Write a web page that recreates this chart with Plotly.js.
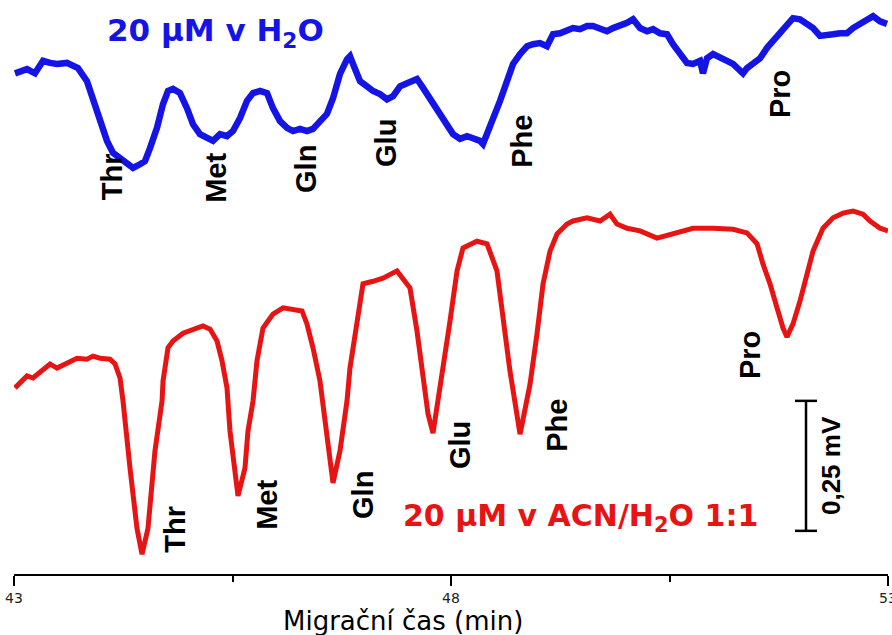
<!DOCTYPE html>
<html>
<head>
<meta charset="utf-8">
<script src="https://cdn.plot.ly/plotly-3.0.1.min.js"></script>
<style>html,body{margin:0;padding:0;background:#fff;}#chart{width:892px;height:635px;}</style>
</head>
<body>
<div id="chart"></div>
<script>
// Migration time (min) and detector signal (mV)
const timeWater = [
 43.011,43.149,43.240,43.332,43.412,43.492,43.606,43.675,43.732,43.835,
 43.904,43.984,44.064,44.133,44.213,44.293,44.362,44.442,44.499,44.556,
 44.636,44.705,44.762,44.819,44.899,44.979,45.048,45.128,45.208,45.277,
 45.357,45.437,45.506,45.586,45.666,45.735,45.815,45.895,45.963,46.044,
 46.124,46.192,46.272,46.352,46.421,46.501,46.581,46.650,46.730,46.810,
 46.844,46.879,46.959,47.039,47.108,47.188,47.268,47.337,47.417,47.497,
 47.611,47.680,47.760,47.840,47.954,48.023,48.103,48.183,48.252,48.332,
 48.366,48.412,48.481,48.561,48.641,48.710,48.790,48.870,48.938,49.018,
 49.098,49.167,49.247,49.327,49.396,49.476,49.556,49.625,49.705,49.785,
 49.854,49.934,50.014,50.083,50.163,50.243,50.312,50.392,50.472,50.540,
 50.620,50.700,50.769,50.849,50.883,50.929,50.998,51.078,51.158,51.227,
 51.307,51.341,51.387,51.456,51.536,51.616,51.684,51.764,51.844,51.913,
 51.993,52.073,52.142,52.222,52.302,52.371,52.451,52.531,52.600,52.680,
 52.760,52.829,52.909,52.989
];
const signalWater = [
 0.963,0.971,0.963,0.987,0.983,0.981,0.983,0.977,0.973,0.948,
 0.915,0.871,0.833,0.810,0.800,0.788,0.781,0.788,0.794,0.819,
 0.858,0.904,0.929,0.933,0.925,0.896,0.865,0.846,0.838,0.833,
 0.846,0.842,0.852,0.877,0.910,0.925,0.929,0.925,0.896,0.871,
 0.858,0.852,0.856,0.852,0.856,0.871,0.885,0.915,0.962,0.990,
 0.996,0.981,0.948,0.938,0.929,0.923,0.913,0.919,0.938,0.944,
 0.952,0.935,0.913,0.896,0.865,0.846,0.837,0.842,0.838,0.833,
 0.827,0.846,0.871,0.910,0.948,0.981,1.000,1.015,1.019,1.021,
 1.015,1.038,1.040,1.044,1.050,1.048,1.054,1.054,1.048,1.044,
 1.050,1.054,1.060,1.067,1.050,1.044,1.048,1.040,1.038,1.019,
 1.000,0.983,0.981,0.987,0.963,0.992,1.000,0.992,0.987,0.981,
 0.971,0.963,0.973,0.981,0.992,1.012,1.025,1.040,1.058,1.069,
 1.067,1.058,1.050,1.035,1.035,1.038,1.040,1.040,1.050,1.058,
 1.063,1.073,1.063,1.058
];
const timeACN = [
 43.011,43.069,43.149,43.217,43.297,43.412,43.492,43.606,43.721,43.835,
 43.904,43.984,44.098,44.156,44.213,44.247,44.281,44.327,44.407,44.465,
 44.533,44.613,44.694,44.705,44.762,44.819,44.934,45.048,45.162,45.243,
 45.323,45.380,45.437,45.471,45.563,45.643,45.677,45.735,45.780,45.849,
 45.963,46.078,46.192,46.295,46.352,46.421,46.501,46.558,46.650,46.730,
 46.810,46.844,46.936,46.993,47.108,47.222,47.382,47.451,47.531,47.611,
 47.680,47.737,47.794,47.909,47.989,48.069,48.137,48.297,48.412,48.526,
 48.595,48.675,48.790,48.904,48.984,49.053,49.133,49.213,49.327,49.396,
 49.556,49.705,49.819,49.899,50.014,50.163,50.357,50.540,50.769,50.998,
 51.227,51.387,51.502,51.570,51.650,51.730,51.799,51.844,51.913,51.993,
 52.073,52.142,52.256,52.371,52.485,52.600,52.714,52.794,52.909,53.000
];
const signalACN = [
 0.358,0.367,0.381,0.377,0.387,0.404,0.396,0.406,0.415,0.413,
 0.419,0.415,0.413,0.404,0.377,0.333,0.275,0.204,0.088,0.038,
 0.088,0.237,0.333,0.371,0.435,0.448,0.463,0.471,0.477,0.471,
 0.448,0.410,0.358,0.275,0.150,0.204,0.275,0.333,0.410,0.473,
 0.500,0.512,0.510,0.506,0.481,0.435,0.371,0.300,0.175,0.237,
 0.333,0.396,0.506,0.558,0.563,0.569,0.583,0.569,0.550,0.467,
 0.371,0.308,0.271,0.390,0.487,0.583,0.627,0.640,0.635,0.583,
 0.487,0.390,0.269,0.365,0.462,0.558,0.621,0.654,0.673,0.679,
 0.685,0.679,0.692,0.673,0.665,0.660,0.646,0.654,0.665,0.665,
 0.663,0.656,0.635,0.596,0.558,0.512,0.473,0.456,0.481,0.525,
 0.577,0.621,0.665,0.685,0.694,0.698,0.692,0.679,0.665,0.660
];
const peakNames = ['Thr','Met','Gln','Glu','Phe','Pro'];
const seriesNames = ['20 μM v H<sub>2</sub>O', '20 μM v ACN/H<sub>2</sub>O 1:1'];
const scaleBarValue = 0.25;   // mV
const scaleBarLabel = '0,25 mV';
const xTitle = 'Migrační čas (min)';

const BLUE = '#1414e6', RED = '#e81414';
const FONT = 'Arial, "Liberation Sans", sans-serif';
const WIDEFONT = '"DejaVu Sans", Arial, sans-serif';

// label positions (layout only)
const topPos = [[44.121,0.765],[45.311,0.762],[46.341,0.779],[47.256,0.829],[48.812,0.833],[51.764,0.923]];
const botPos = [[44.842,0.087],[45.895,0.133],[46.993,0.152],[48.103,0.248],[49.213,0.285],[51.421,0.421]];

const traces = [
 {x: timeWater, y: signalWater, mode: 'lines', line: {color: BLUE, width: 6.5}, name: seriesNames[0], hoverinfo: 'skip'},
 {x: timeACN, y: signalACN, mode: 'lines', line: {color: RED, width: 5}, name: seriesNames[1], hoverinfo: 'skip'}
];

const ann = [];
function peakLabel(txt, p) {
  ann.push({x: p[0], y: p[1], xref: 'x', yref: 'y', text: txt, showarrow: false, textangle: -90,
    xanchor: 'center', yanchor: 'middle', font: {family: FONT, size: 29, color: '#000', weight: 'bold'}});
}
peakNames.forEach((n, i) => { peakLabel(n, topPos[i]); peakLabel(n, botPos[i]); });
ann.push({x: 45.311, y: 1.042, xref: 'x', yref: 'y', text: seriesNames[0], showarrow: false,
  xanchor: 'center', yanchor: 'middle', font: {family: WIDEFONT, size: 31, color: BLUE, weight: 'bold'}});
ann.push({x: 49.476, y: 0.108, xref: 'x', yref: 'y', text: seriesNames[1], showarrow: false,
  xanchor: 'center', yanchor: 'middle', font: {family: WIDEFONT, size: 30, color: RED, weight: 'bold'}});
// scale bar label
const sbX = 52.062, sbY0 = 0.083;
ann.push({x: 52.35, y: sbY0 + scaleBarValue / 2, xref: 'x', yref: 'y', text: scaleBarLabel, showarrow: false,
  textangle: -90, xanchor: 'center', yanchor: 'middle', font: {family: FONT, size: 26, color: '#000', weight: 'bold'}});
// x axis title
ann.push({x: 0.445, y: -0.082, xref: 'paper', yref: 'paper', text: xTitle, showarrow: false,
  xanchor: 'center', yanchor: 'middle', font: {family: WIDEFONT, size: 26, color: '#000'}});

const capHalf = 0.126;
const shapes = [
 {type: 'line', xref: 'x', yref: 'y', x0: sbX, x1: sbX, y0: sbY0, y1: sbY0 + scaleBarValue, line: {color: '#000', width: 2.5}},
 {type: 'line', xref: 'x', yref: 'y', x0: sbX - capHalf, x1: sbX + capHalf, y0: sbY0, y1: sbY0, line: {color: '#000', width: 2.5}},
 {type: 'line', xref: 'x', yref: 'y', x0: sbX - capHalf, x1: sbX + capHalf, y0: sbY0 + scaleBarValue, y1: sbY0 + scaleBarValue, line: {color: '#000', width: 2.5}}
];

const layout = {
  width: 892, height: 635,
  margin: {l: 14, r: 4, t: 0, b: 61, pad: 0},
  paper_bgcolor: '#fff', plot_bgcolor: '#fff',
  showlegend: false,
  font: {family: FONT},
  xaxis: {range: [43, 53], tick0: 43, dtick: 5, ticks: 'outside', ticklen: 10, tickwidth: 2, tickcolor: '#000',
    showline: true, linewidth: 2, linecolor: '#000', showgrid: false, zeroline: false,
    ticklabeloverflow: 'allow',
    tickfont: {family: WIDEFONT, size: 14, color: '#222'},
    minor: {tick0: 43, dtick: 2.5, ticks: 'outside', ticklen: 6, tickwidth: 2, tickcolor: '#000', showgrid: false}},
  yaxis: {range: [0, 1.104], visible: false, showgrid: false, zeroline: false},
  annotations: ann,
  shapes: shapes
};
Plotly.newPlot('chart', traces, layout, {displayModeBar: false, staticPlot: true});
</script>
</body>
</html>
